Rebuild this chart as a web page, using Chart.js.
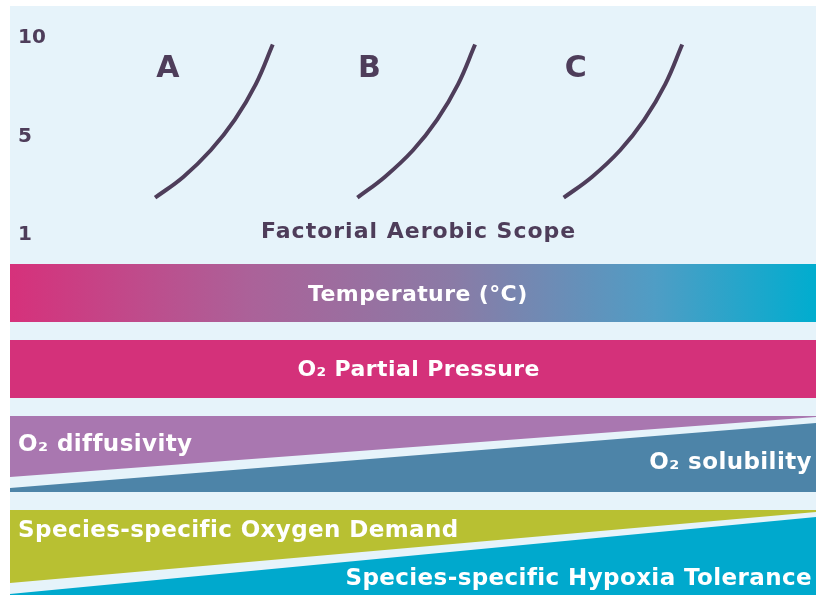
<!DOCTYPE html>
<html>
<head>
<meta charset="utf-8">
<script src="https://cdn.jsdelivr.net/npm/chart.js@4.4.1/dist/chart.umd.min.js"></script>
<style>
body{margin:0;background:#fff;width:816px;height:595px;overflow:hidden;position:relative}
#bg{position:absolute;left:10px;top:6px;width:806px;height:589px;background:#e6f3fa}
canvas{position:absolute;left:0}
#top{top:0}
#bands{top:255px}
</style>
</head>
<body>
<div id="bg"></div>
<canvas id="top" width="816" height="255"></canvas>
<canvas id="bands" width="816" height="340"></canvas>
<script>
// scope axis (ticks shown evenly as in the sketch)
var yTickPos=[0,1,2]
var yTickLabels=['1','5','10']
var scopeTitle='Factorial Aerobic Scope'
var titlePos={x:50.7,y:0.03}

// curves A, B, C
var curveNames=['A','B','C']
var nameX=[19.6,44.6,70.2]
var nameY=1.68
var curveA_x=[18.0,21.5,24.9,27.9,30.5,32.6]
var curveA_y=[0.38,0.59,0.86,1.17,1.53,1.93]
var curveB_x=[43.1,46.5,50.0,53.0,55.6,57.7]
var curveB_y=[0.38,0.59,0.86,1.17,1.53,1.93]
var curveC_x=[68.7,72.2,75.7,78.7,81.3,83.4]
var curveC_y=[0.38,0.59,0.86,1.17,1.53,1.93]

// bands (x 0 = left, 100 = right)
var bandNames=['Temperature','O2 Partial Pressure','O2 diffusivity','O2 solubility','Oxygen Demand','Hypoxia Tolerance']
var bandTopL=[33.1,25.5,17.9,10.7,8.5,0.1]
var bandTopR=[33.1,25.5,17.9,17.2,8.5,7.8]
var bandBotL=[27.3,19.7,11.8,10.3,1.2,0]
var bandBotR=[27.3,19.7,17.8,10.3,8.3,0]
var bandColors=['gradient','#d4317a','#a977b0','#4d84a8','#b8c032','#00a9cd']

var bandLabels=['Temperature (°C)','O₂ Partial Pressure','O₂ diffusivity','O₂ solubility','Species-specific Oxygen Demand','Species-specific Hypoxia Tolerance']
var labelX=[50.6,50.7,1.0,99.5,1.0,99.5]
var labelY=[30.0,22.5,15.0,13.2,6.4,1.6]
var labelAlign=['center','center','left','right','left','right']
var labelSize=[22,22,23,23,23,23]

var dark='#4e3d5a'

function pts(xs,ys){
    var out=[]
    for(var i=0;i<xs.length;i++){ out.push({x:xs[i],y:ys[i]}) }
    return out
}

const topLabels={
    id:'topLabels',
    afterDatasetsDraw(chart){
        const c=chart.ctx, xs=chart.scales.x, ys=chart.scales.y
        c.save()
        c.fillStyle=dark
        c.textAlign='center'
        c.textBaseline='middle'
        c.font='bold 30px "DejaVu Sans"'
        for(var i=0;i<curveNames.length;i++){
            c.fillText(curveNames[i],xs.getPixelForValue(nameX[i]),ys.getPixelForValue(nameY))
        }
        c.font='bold 22px "DejaVu Sans"'
        c.letterSpacing='1px'
        c.fillText(scopeTitle,xs.getPixelForValue(titlePos.x),ys.getPixelForValue(titlePos.y))
        c.restore()
    }
}

var curveStyle={borderColor:dark,borderWidth:4,pointRadius:0,tension:0.4,fill:false}

var ctx = document.getElementById('top').getContext('2d');
const chart = new Chart(ctx,{
    type:'line',
    data:{
        datasets:[
            Object.assign({label:'A',data:pts(curveA_x,curveA_y)},curveStyle),
            Object.assign({label:'B',data:pts(curveB_x,curveB_y)},curveStyle),
            Object.assign({label:'C',data:pts(curveC_x,curveC_y)},curveStyle)
        ]
    },
    options:{
        responsive:false,
        animation:false,
        layout:{padding:{left:10,top:8,right:0,bottom:0}},
        plugins:{legend:{display:false},tooltip:{enabled:false}},
        scales:{
            x:{type:'linear',min:0,max:100,display:false},
            y:{
                type:'linear',min:-0.2,max:2.3,
                afterBuildTicks:function(axis){ axis.ticks=yTickPos.map(v=>({value:v})) },
                afterFit:function(axis){ axis.width=0; axis.paddingTop=0; axis.paddingBottom=0 },
                grid:{display:false,drawTicks:false},
                border:{display:false},
                ticks:{
                    mirror:true,padding:8,color:dark,
                    font:{family:'"DejaVu Sans"',size:20,weight:'bold'},
                    callback:function(v){ return yTickLabels[yTickPos.indexOf(v)] }
                }
            }
        }
    },
    plugins:[topLabels]
});

function tempGradient(context){
    const chart=context.chart, a=chart.chartArea
    if(!a) return '#d4317a'
    const g=chart.ctx.createLinearGradient(a.left,0,a.right,0)
    g.addColorStop(0,'#d6317b')
    g.addColorStop(0.3,'#ab6299')
    g.addColorStop(0.55,'#8a7ba6')
    g.addColorStop(0.8,'#4f9dc5')
    g.addColorStop(1,'#00adcf')
    return g
}

var bandSets=[]
for(var i=0;i<bandNames.length;i++){
    bandSets.push({label:bandNames[i]+' top',data:[{x:0,y:bandTopL[i]},{x:100,y:bandTopR[i]}],
        borderWidth:0,borderColor:'transparent',pointRadius:0,fill:false})
    bandSets.push({label:bandNames[i],data:[{x:0,y:bandBotL[i]},{x:100,y:bandBotR[i]}],
        borderWidth:0,borderColor:'transparent',pointRadius:0,fill:'-1',
        backgroundColor:bandColors[i]=='gradient'?tempGradient:bandColors[i]})
}

const bandText={
    id:'bandText',
    afterDatasetsDraw(chart){
        const c=chart.ctx, xs=chart.scales.x, ys=chart.scales.y
        c.save()
        c.fillStyle='#ffffff'
        c.textBaseline='middle'
        c.letterSpacing='0.4px'
        for(var i=0;i<bandLabels.length;i++){
            c.font='bold '+labelSize[i]+'px "DejaVu Sans"'
            c.textAlign=labelAlign[i]
            c.fillText(bandLabels[i],xs.getPixelForValue(labelX[i]),ys.getPixelForValue(labelY[i]))
        }
        c.restore()
    }
}

var ctx2 = document.getElementById('bands').getContext('2d');
const chart2 = new Chart(ctx2,{
    type:'line',
    data:{datasets:bandSets},
    options:{
        responsive:false,
        animation:false,
        layout:{padding:{left:10,top:0,right:0,bottom:0}},
        plugins:{legend:{display:false},tooltip:{enabled:false}},
        scales:{
            x:{type:'linear',min:0,max:100,display:false},
            y:{type:'linear',min:0,max:34,display:false}
        }
    },
    plugins:[bandText]
});
</script>
</body>
</html>
